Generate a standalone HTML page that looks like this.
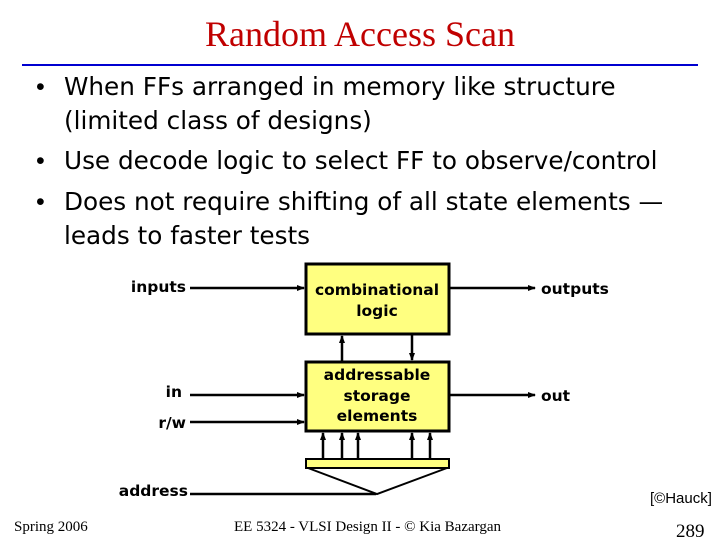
<!DOCTYPE html>
<html><head><style>
body{margin:0;width:720px;height:540px;background:#fff;position:relative;overflow:hidden;font-family:"Liberation Sans",sans-serif}
.t{position:absolute;white-space:nowrap}
.b{position:absolute;left:64px;font-family:"DejaVu Sans",sans-serif;font-size:24.7px;line-height:34px}
.d{position:absolute;left:36px;font-size:25px;line-height:34px}
</style></head><body>
<div class="t" style="left:0;width:720px;text-align:center;top:13px;font-family:'Liberation Serif',serif;font-size:36px;color:#c00000">Random Access Scan</div>
<div style="position:absolute;left:22px;top:64px;width:676px;height:2px;background:#0000d0"></div>
<div class="d" style="top:70px">•</div><div class="b t" style="top:70px">When FFs arranged in memory like structure</div>
<div class="b t" style="top:104px">(limited class of designs)</div>
<div class="d" style="top:144px">•</div><div class="b t" style="top:144px">Use decode logic to select FF to observe/control</div>
<div class="d" style="top:185px">•</div><div class="b t" style="top:185px">Does not require shifting of all state elements —</div>
<div class="b t" style="top:219px">leads to faster tests</div>
<svg width="720" height="540" style="position:absolute;left:0;top:0">
<defs><marker id="a" markerWidth="8" markerHeight="6" refX="7" refY="3" orient="auto" markerUnits="userSpaceOnUse"><path d="M0,0L8,3L0,6z" fill="#000"/></marker></defs>
<rect x="306" y="264" width="143" height="70" fill="#ffff80" stroke="#000" stroke-width="3"/>
<rect x="306" y="362" width="143" height="69" fill="#ffff80" stroke="#000" stroke-width="3"/>
<rect x="306" y="459" width="143" height="9" fill="#ffff80" stroke="#000" stroke-width="2"/>
<polyline points="308,468 377,494 447,468" fill="none" stroke="#000" stroke-width="2"/>
<g stroke="#000" stroke-width="2.5" fill="none" marker-end="url(#a)">
<line x1="190" y1="288" x2="304" y2="288"/>
<line x1="450" y1="288" x2="535" y2="288"/>
<line x1="190" y1="395" x2="304" y2="395"/>
<line x1="190" y1="422" x2="304" y2="422"/>
<line x1="450" y1="395" x2="535" y2="395"/>
<line x1="342" y1="361" x2="342" y2="336"/>
<line x1="412" y1="335" x2="412" y2="360"/>
<line x1="323" y1="458" x2="323" y2="433"/>
<line x1="342" y1="458" x2="342" y2="433"/>
<line x1="358" y1="458" x2="358" y2="433"/>
<line x1="412" y1="458" x2="412" y2="433"/>
<line x1="430" y1="458" x2="430" y2="433"/>
</g>
<line x1="190" y1="494" x2="376" y2="494" stroke="#000" stroke-width="2.5"/>
<g fill="#000" font-family="DejaVu Sans, sans-serif" font-size="15.5" font-weight="bold">
<text x="186" y="292" text-anchor="end">inputs</text>
<text x="182" y="397" text-anchor="end">in</text>
<text x="186" y="428" text-anchor="end">r/w</text>
<text x="188" y="496" text-anchor="end">address</text>
<text x="541" y="294">outputs</text>
<text x="541" y="401">out</text>
<text x="377" y="295" text-anchor="middle">combinational</text>
<text x="377" y="316" text-anchor="middle">logic</text>
<text x="377" y="380" text-anchor="middle">addressable</text>
<text x="377" y="401" text-anchor="middle">storage</text>
<text x="377" y="421" text-anchor="middle">elements</text>
</g>
</svg>
<div class="t" style="left:650px;top:490px;font-size:15px">[©Hauck]</div>
<div class="t" style="left:14px;top:519px;font-family:'Liberation Serif',serif;font-size:15px">Spring 2006</div>
<div class="t" style="left:234px;top:519px;font-family:'Liberation Serif',serif;font-size:15px">EE 5324 - VLSI Design II - © Kia Bazargan</div>
<div class="t" style="left:676px;top:521px;font-family:'Liberation Serif',serif;font-size:19px">289</div>
</body></html>
